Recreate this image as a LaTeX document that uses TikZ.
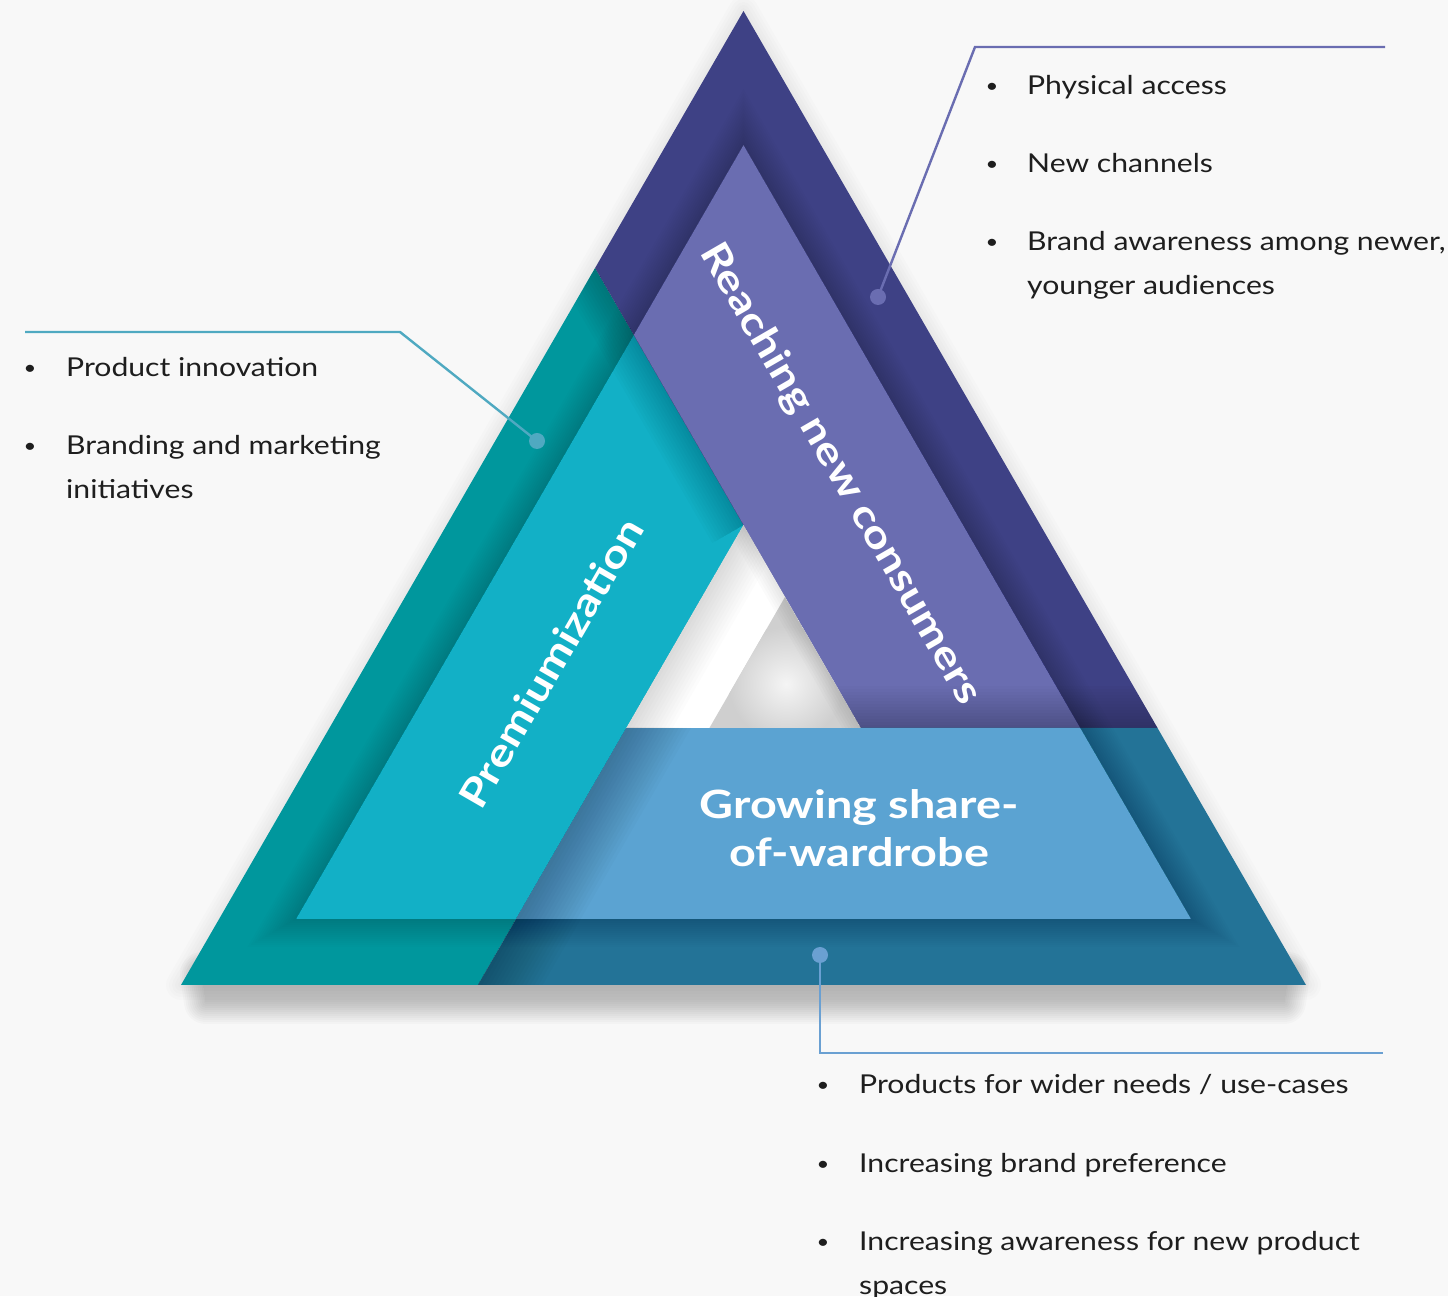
\documentclass[tikz,border=0pt]{standalone}
\usepackage{fontspec}
\setmainfont{Lato}[FakeStretch=1.16]
\newfontfamily\labfont{Lato}[FakeStretch=1.2]
\usetikzlibrary{calc}

\definecolor{bg}{RGB}{248,248,248}
\definecolor{tealD}{RGB}{0,151,157}
\definecolor{tealL}{RGB}{18,176,198}
\definecolor{purD}{RGB}{62,65,133}
\definecolor{purL}{RGB}{106,109,177}
\definecolor{bluD}{RGB}{35,115,151}
\definecolor{bluL}{RGB}{91,163,210}
\definecolor{cTeal}{RGB}{79,169,193}
\definecolor{cPur}{RGB}{106,109,177}
\definecolor{cBlu}{RGB}{106,160,210}
\definecolor{txt}{RGB}{30,30,30}

% soft shadow along the line #1--#2 (to be clipped to one side):
% #3 reach, #4 number of layers, #5 opacity of each layer
\newcommand\castshade[5]{%
  \foreach \k in {1,...,#4}{%
    \pgfmathsetmacro\dd{2*\k*#3/#4}%
    \draw[black, opacity=#5, line width=\dd pt, line join=miter] (#1) -- (#2);
  }}

\tikzset{
  item/.style={anchor=base west, inner sep=0pt, text=txt, font=\fontsize{26}{44}\selectfont},
  bul/.style={anchor=base, inner sep=0pt, text=txt, font=\fontsize{19}{44}\selectfont},
  lab/.style={inner sep=0pt, text=white, font=\labfont\fontsize{39}{48}\selectfont\bfseries},
  dot/.style={circle, inner sep=0pt, minimum size=16pt},
  callout/.style={line width=2.4pt},
}

\begin{document}
\begin{tikzpicture}[x=1pt,y=1pt]
\useasboundingbox (0,0) rectangle (1448,1296);
\clip (0,0) rectangle (1448,1296);
\fill[bg] (0,0) rectangle (1448,1296);

% outer triangle
\coordinate (A) at (743.5,1285);
\coordinate (B) at (181,311);
\coordinate (C) at (1306,311);
% inner triangle
\coordinate (a) at (743.5,1151);
\coordinate (b) at (296,377);
\coordinate (c) at (1191,377);
% crossing points of the three bands
\coordinate (H)  at (743.5,771);   % apex of the hole
\coordinate (P1) at (595.1,1028);  % purple edge on outer left side
\coordinate (p1) at (633.8,961);   % purple edge on inner left side
\coordinate (Q1) at (860.7,568);   % purple edge on the blue band
\coordinate (Q2) at (1157.5,568);  % outer right side at blue band
\coordinate (q2) at (1080.1,568);  % inner right side at blue band
\coordinate (R1) at (626.3,568);   % teal edge on the blue band
\coordinate (R2) at (477.9,311);   % teal edge on the base
\coordinate (r2) at (516,377);     % teal edge on inner base
% grey wedge inside the hole
\coordinate (G1) at (785,699);
\coordinate (G2) at (709.4,568);

% faint halo along the sides
\foreach \w in {3,6,...,15}{
  \draw[black, opacity=0.012, line width=2*\w pt, line join=round] (A) -- (B) -- (C) -- cycle;
}
% drop shadow under the base: nested, growing layers
\foreach \e in {0,2,...,22}{
  \begin{scope}[transparency group, opacity=0.02]
    \filldraw[black, line width=2*\e pt, line join=round]
      (202,322) -- (1288,322) -- (1284,294) -- (206,294) -- cycle;
  \end{scope}
}

% teal band
\fill[tealD] (B) -- (P1) -- (H) -- (R2) -- cycle;
\fill[tealL] (b) -- (p1) -- (H) -- (r2) -- cycle;
% purple band
\fill[purD] (P1) -- (A) -- (Q2) -- (Q1) -- cycle;
\fill[purL] (p1) -- (a) -- (q2) -- (Q1) -- cycle;
% blue band
\fill[bluD] (R1) -- (Q2) -- (C) -- (R2) -- cycle;
\fill[bluL] (R1) -- (q2) -- (c) -- (r2) -- cycle;
% hole
\fill[white] (H) -- (R1) -- (Q1) -- cycle;
\begin{scope}
  \clip (G1) -- (G2) -- (Q1) -- cycle;
  \fill[black!19] (G1) -- (G2) -- (Q1) -- cycle;
  \shade[inner color=white!96!black, outer color=black!19] (786,612) circle (58);
\end{scope}
\begin{scope}
  \clip (H) -- (R1) -- (Q1) -- cycle;
  \castshade{H}{R1}{40}{12}{0.012}
  \castshade{H}{Q1}{16}{6}{0.014}
\end{scope}

% raised inner panels throw a soft shadow on the outer rim
\begin{scope}[even odd rule]
  \clip (A) -- (B) -- (C) -- cycle (a) -- (b) -- (c) -- cycle;
  \foreach \w in {2,4,...,28}{
    \draw[black, opacity=0.011, line width=2*\w pt, line join=miter] (a) -- (b) -- (c) -- cycle;
  }
\end{scope}
% purple over teal
\begin{scope}
  \clip (B) -- (P1) -- (H) -- (R2) -- cycle;
  \castshade{H}{$(H)!1.4!(P1)$}{36}{12}{0.014}
\end{scope}
% blue over purple
\begin{scope}
  \clip (P1) -- (A) -- (Q2) -- (Q1) -- cycle;
  \castshade{$(R1)+(-60,0)$}{$(Q2)+(60,0)$}{42}{14}{0.016}
\end{scope}
% teal over blue
\begin{scope}
  \clip (R1) -- (Q2) -- (C) -- (R2) -- cycle;
  \castshade{H}{$(R1)!1.4!(R2)$}{56}{16}{0.015}
\end{scope}

% band titles
\node[lab, rotate=-60] (reach) at (840,822) {Reaching new consumers};
\node[lab, rotate=60] (prem) at (551,633) {Premiumization};
\node[lab, align=center] (grow) at (859,468) {Growing share-\\of-wardrobe};

% callouts
\node[dot, fill=cPur] (dP) at (878,999) {};
\coordinate (kP) at (975,1249);
\coordinate (eP) at (1385,1249);
\draw[callout, cPur] (dP.center) -- (kP) -- (eP);

\node[dot, fill=cTeal] (dT) at (537,855) {};
\coordinate (kT) at (400,964);
\coordinate (eT) at (25,964);
\draw[callout, cTeal] (dT.center) -- (kT) -- (eT);

\node[dot, fill=cBlu] (dB) at (820,341) {};
\coordinate (kB) at (820,243);
\coordinate (eB) at (1383,243);
\draw[callout, cBlu] (dB.center) -- (kB) -- (eB);

% reaching new consumers
\node[bul] (bp1) at (992,1203) {•};
\node[item] (tp1) at (1027,1201) {Physical access};
\node[bul] (bp2) at (992,1125) {•};
\node[item] (tp2) at (1027,1123) {New channels};
\node[bul] (bp3) at (992,1047) {•};
\node[item] (tp3) at (1027,1045) {\begin{tabular}[t]{@{}l@{}}Brand awareness among newer,\\younger audiences\end{tabular}};

% premiumization
\node[bul] (bt1) at (30,921) {•};
\node[item] (tt1) at (66,919) {Product innovation};
\node[bul] (bt2) at (30,843) {•};
\node[item] (tt2) at (66,841) {\begin{tabular}[t]{@{}l@{}}Branding and marketing\\initiatives\end{tabular}};

% share of wardrobe
\node[bul] (bb1) at (823,204) {•};
\node[item] (tb1) at (859,202) {Products for wider needs / use-cases};
\node[bul] (bb2) at (823,126) {•};
\node[item] (tb2) at (859,124) {Increasing brand preference};
\node[bul] (bb3) at (823,48) {•};
\node[item] (tb3) at (859,46) {\begin{tabular}[t]{@{}l@{}}Increasing awareness for new product\\spaces\end{tabular}};
\end{tikzpicture}
\end{document}
